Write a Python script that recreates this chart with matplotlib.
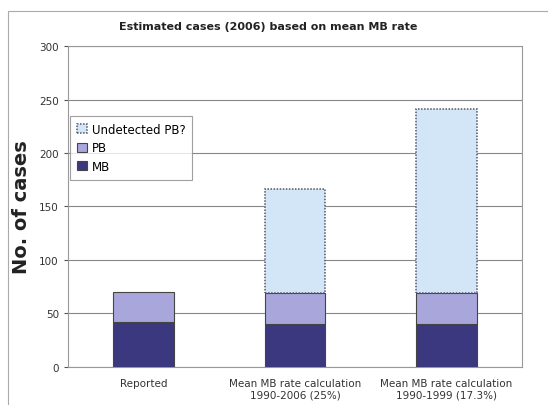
import matplotlib.pyplot as plt
import numpy as np
from matplotlib.patches import Rectangle

categories = ["Reported", "Mean MB rate calculation\n1990-2006 (25%)", "Mean MB rate calculation\n1990-1999 (17.3%)"]
mb = [42, 40, 40]
pb = [28, 29, 29]
undetected = [0, 97, 172]

fig = plt.figure(figsize=(5.48, 4.06), dpi=100)
ax = fig.add_axes([0.124, 0.094, 0.829, 0.79])

x = np.arange(len(categories))
w = 0.4
ax.bar(x, mb, w, color="#3b387f", edgecolor="#444444", linewidth=0.8, label="MB", zorder=3)
ax.bar(x, pb, w, bottom=mb, color="#a9a6dc", edgecolor="#444444", linewidth=0.8, label="PB", zorder=3)
bottom2 = [m + p for m, p in zip(mb, pb)]
ax.bar(x[1:], undetected[1:], w, bottom=bottom2[1:], color="#d3e6f8",
       edgecolor="#555566", linewidth=1.1, linestyle=(0, (1, 1)), label="Undetected PB?", zorder=3)

ax.set_xlim(-0.5, 2.5)
ax.set_ylim(0, 300)
ax.set_yticks(range(0, 301, 50))
ax.set_xticks(x)
ax.set_xticklabels(categories, fontsize=7.5, color="#333333")
ax.tick_params(axis="y", labelsize=7.5, length=3, colors="#555555", labelcolor="#333333")
ax.tick_params(axis="x", length=0, pad=8)
ax.grid(axis="y", color="#888888", linewidth=0.8, zorder=0)
for s in ax.spines.values():
    s.set_color("#999999")
    s.set_linewidth(0.8)

ax.set_ylabel("No. of cases", fontsize=14, fontweight="bold", color="#222222", labelpad=6)

handles, labels = ax.get_legend_handles_labels()
order = [2, 1, 0]
leg = ax.legend([handles[i] for i in order], [labels[i] for i in order],
                loc="upper left", bbox_to_anchor=(0.0, 0.79), fontsize=8.5,
                frameon=True, fancybox=False, edgecolor="#888888", borderaxespad=0.2,
                handlelength=0.8, handleheight=0.8, handletextpad=0.4,
                borderpad=0.6, labelspacing=0.45)
leg.get_frame().set_linewidth(0.8)

fig.text(0.49, 0.933, "Estimated cases (2006) based on mean MB rate",
         ha="center", va="center", fontsize=8, fontweight="bold", color="#222222")

fig.patches.append(Rectangle((0.015, -0.01), 1.0, 0.98, transform=fig.transFigure,
                             fill=False, edgecolor="#aaaaaa", linewidth=0.8))

fig.savefig("out.png", dpi=100)
